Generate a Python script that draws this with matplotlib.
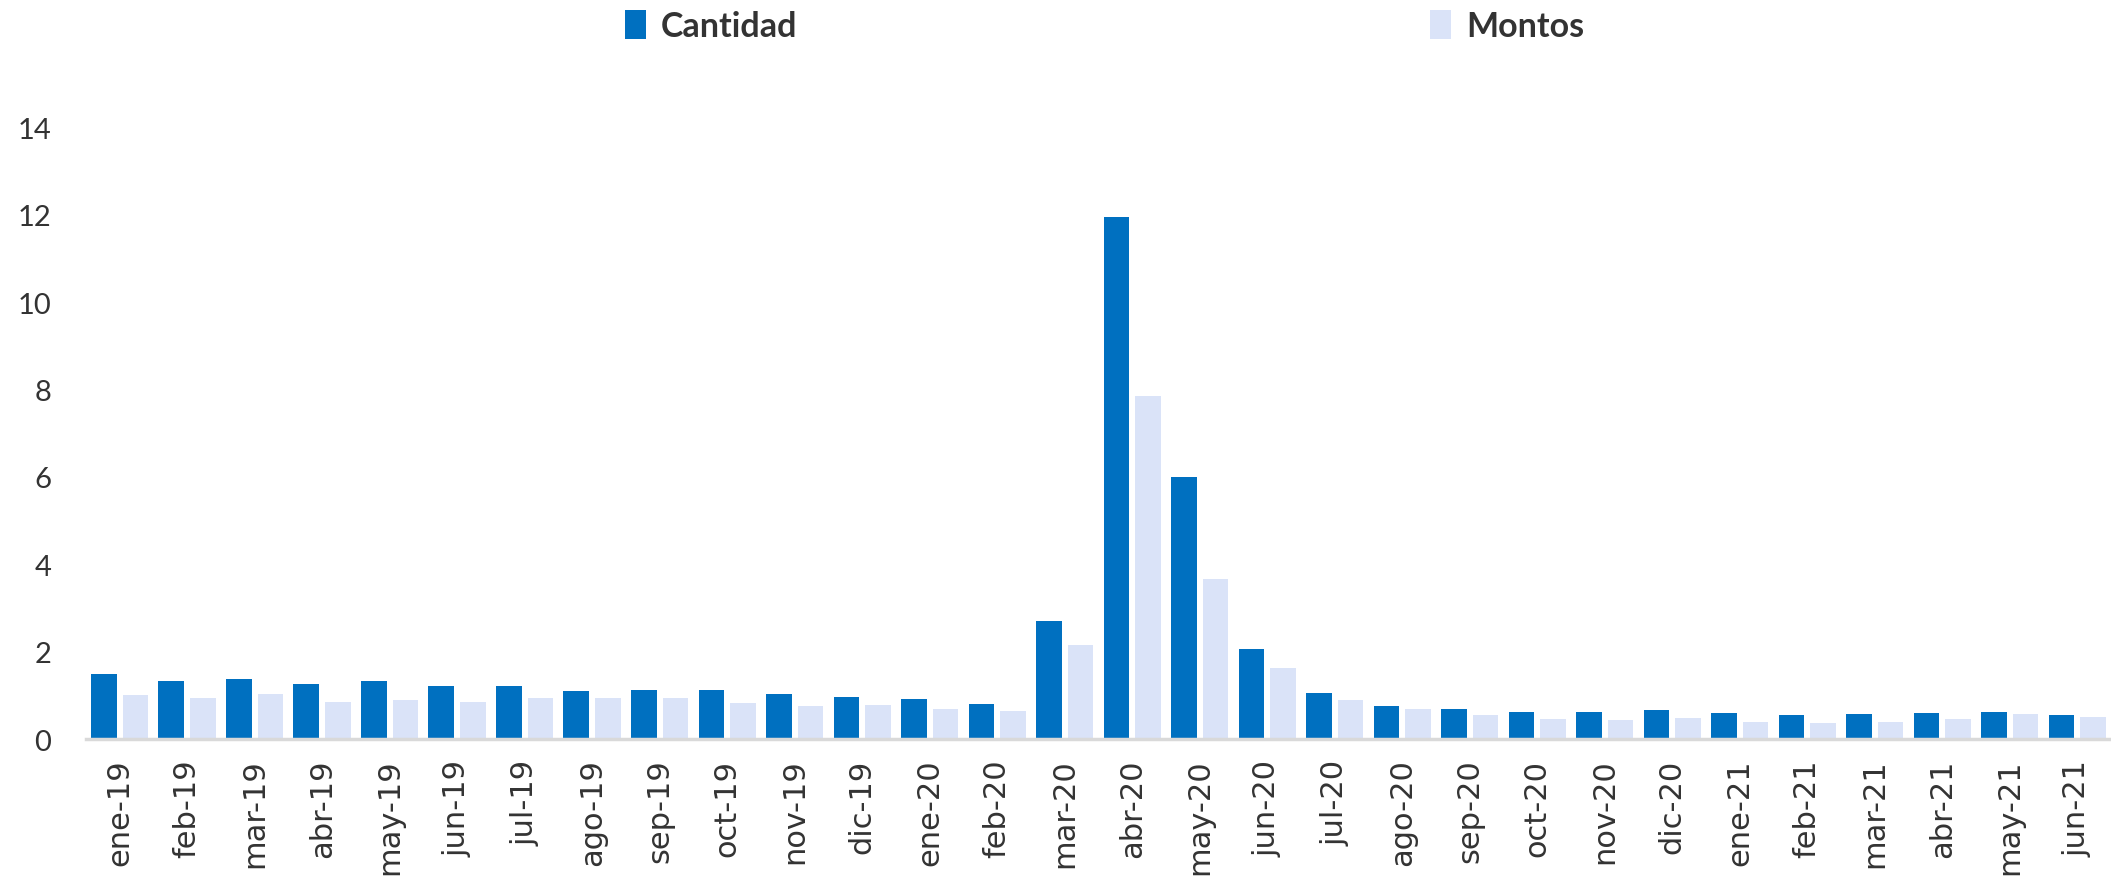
import matplotlib
matplotlib.use("Agg")
import matplotlib.pyplot as plt
import numpy as np

# Data
meses = ['ene-19', 'feb-19', 'mar-19', 'abr-19', 'may-19', 'jun-19', 'jul-19', 'ago-19',
         'sep-19', 'oct-19', 'nov-19', 'dic-19', 'ene-20', 'feb-20', 'mar-20', 'abr-20',
         'may-20', 'jun-20', 'jul-20', 'ago-20', 'sep-20', 'oct-20', 'nov-20', 'dic-20',
         'ene-21', 'feb-21', 'mar-21', 'abr-21', 'may-21', 'jun-21']
cantidad = [1.48, 1.32, 1.38, 1.27, 1.32, 1.21, 1.21, 1.11, 1.12, 1.13, 1.04, 0.97, 0.91, 0.80,
            2.70, 11.94, 6.00, 2.06, 1.06, 0.76, 0.70, 0.63, 0.63, 0.67, 0.60, 0.56, 0.58, 0.60,
            0.63, 0.56]
montos = [1.00, 0.95, 1.03, 0.86, 0.90, 0.84, 0.95, 0.93, 0.95, 0.83, 0.76, 0.77, 0.70, 0.65,
          2.15, 7.85, 3.66, 1.62, 0.90, 0.70, 0.56, 0.45, 0.44, 0.49, 0.40, 0.38, 0.40, 0.46,
          0.58, 0.50]
y_ticks = [0, 2, 4, 6, 8, 10, 12, 14]

azul = '#0070C0'
celeste = '#DAE3F8'
texto = '#333333'

fig = plt.figure(figsize=(21.11, 8.79), dpi=100)
ax = fig.add_axes([0.0407, 0.158, 0.9593, 0.696])

x = np.arange(len(meses))
w = 0.38
b1 = ax.bar(x - 0.235, cantidad, width=w, color=azul, label='Cantidad')
b2 = ax.bar(x + 0.235, montos, width=w, color=celeste, label='Montos')

ax.set_xlim(-0.5, len(meses) - 0.5)
ax.set_ylim(0, 14)
ax.set_yticks(y_ticks)
ax.set_yticklabels([str(v) for v in y_ticks], fontsize=21, family='Lato', color=texto)
ax.set_xticks(x)
ax.set_xticklabels(meses, rotation=90, fontsize=22, family='DejaVu Sans', color=texto,
                   va='top', ha='center')
ax.tick_params(axis='y', length=0, pad=25)
ax.tick_params(axis='x', length=0, pad=14)

for s in ['top', 'right', 'left']:
    ax.spines[s].set_visible(False)
ax.spines['bottom'].set_color('#d9d9d9')
ax.spines['bottom'].set_linewidth(2.5)

fig.legend(handles=[b1, b2], labels=['Cantidad', 'Montos'], loc='center',
           bbox_to_anchor=(0.5233, 0.969), ncol=2, frameon=False,
           handlelength=0.6, handleheight=0.9, handletextpad=0.45, columnspacing=18.6,
           prop={'family': 'Lato', 'weight': 'bold', 'size': 24.5}, labelcolor=texto)

fig.savefig('out.png', dpi=100)
